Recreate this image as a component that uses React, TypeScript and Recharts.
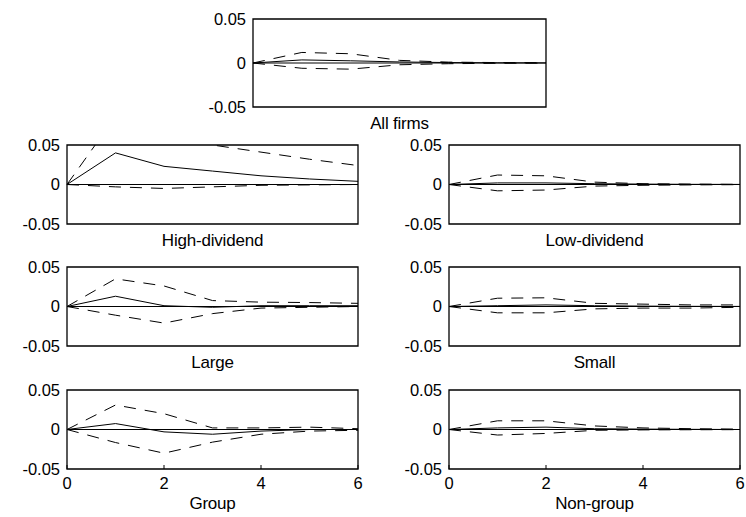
import React from 'react';
import {
  LineChart,
  Line,
  XAxis,
  YAxis,
  ReferenceLine,
  ReferenceArea,
} from 'recharts';

// horizon (periods after the shock)
const periods = [0, 1, 2, 3, 4, 5, 6];
const xTicks = [0, 2, 4, 6];
const yTicks = [-0.05, 0, 0.05];

const allIrf = [0, 0.0035, 0.0025, 0.0012, 0.0005, 0.0002, 0.0001];
const allUpper = [0, 0.012, 0.0105, 0.003, 0.001, 0.0005, 0.0003];
const allLower = [0, -0.006, -0.007, -0.002, -0.0008, -0.0003, -0.0001];

const highIrf = [0, 0.04, 0.023, 0.017, 0.011, 0.007, 0.004];
const highUpper = [0, 0.086, 0.066, 0.05, 0.041, 0.032, 0.024];
const highLower = [0, -0.003, -0.005, -0.003, -0.001, -0.0005, 0];

const lowIrf = [0, 0.002, 0.002, 0.001, 0.0005, 0.0002, 0.0001];
const lowUpper = [0, 0.012, 0.011, 0.003, 0.001, 0.0005, 0.0002];
const lowLower = [0, -0.008, -0.007, -0.002, -0.001, -0.0005, -0.0002];

const largeIrf = [0, 0.013, 0.001, -0.001, 0.001, 0.001, 0.001];
const largeUpper = [0, 0.035, 0.026, 0.0075, 0.0055, 0.005, 0.004];
const largeLower = [0, -0.011, -0.021, -0.009, -0.002, -0.001, 0];

const smallIrf = [0, 0.001, 0.002, 0.001, 0.0005, 0.0002, 0.0001];
const smallUpper = [0, 0.0105, 0.011, 0.004, 0.003, 0.002, 0.002];
const smallLower = [0, -0.008, -0.008, -0.003, -0.002, -0.002, -0.001];

const groupIrf = [0, 0.0075, -0.003, -0.006, -0.002, 0, 0];
const groupUpper = [0, 0.031, 0.02, 0.002, 0.002, 0.003, 0.001];
const groupLower = [0, -0.0165, -0.03, -0.016, -0.006, -0.002, -0.001];

const nonGroupIrf = [0, 0.002, 0.003, 0.001, 0.0005, 0.0002, 0];
const nonGroupUpper = [0, 0.011, 0.011, 0.0045, 0.002, 0.001, 0.0005];
const nonGroupLower = [0, -0.007, -0.005, -0.001, -0.0005, -0.0003, -0.0002];

const FONT = '"Liberation Sans", Arial, sans-serif';
const DASH = '12 9';

const build = (irf: number[], upper: number[], lower: number[]) =>
  periods.map((p, i) => ({ p, irf: irf[i], upper: upper[i], lower: lower[i] }));

interface PanelProps {
  title: string;
  data: { p: number; irf: number; upper: number; lower: number }[];
  left: number;
  top: number;
  w: number;
  h: number;
  xLabels?: boolean;
}

const Panel: React.FC<PanelProps> = ({ title, data, left, top, w, h, xLabels }) => {
  const axisW = 70;
  const mTop = 10;
  const axisH = 50;
  const tickStyle = { fontSize: 16.5, fill: '#000', fontFamily: FONT };
  return (
    <div style={{ position: 'absolute', left: left - axisW, top: top - mTop }}>
      <LineChart
        width={w + axisW + 10}
        height={h + mTop + axisH}
        data={data}
        margin={{ top: mTop, right: 10, left: 0, bottom: 0 }}
      >
        <XAxis
          dataKey="p"
          type="number"
          domain={[0, 6]}
          ticks={xTicks}
          height={axisH}
          axisLine={false}
          tickLine={xLabels ? { stroke: '#000' } : false}
          tick={xLabels ? tickStyle : false}
          tickSize={-4}
          tickMargin={12}
          label={{
            value: title,
            position: 'insideTop',
            offset: xLabels ? 28 : 10,
            style: { fontSize: 17, fill: '#000', fontFamily: FONT, letterSpacing: -0.2 },
          }}
        />
        {xLabels && (
          <XAxis
            xAxisId="top"
            orientation="top"
            dataKey="p"
            type="number"
            domain={[0, 6]}
            ticks={xTicks}
            height={0}
            axisLine={false}
            tick={false}
            tickLine={{ stroke: '#000' }}
            tickSize={-4}
          />
        )}
        <YAxis
          type="number"
          domain={[-0.05, 0.05]}
          ticks={yTicks}
          allowDataOverflow
          width={axisW}
          axisLine={false}
          tickLine={false}
          tickSize={0}
          tickMargin={7}
          tick={tickStyle}
          tickFormatter={(v: number) => String(v)}
        />
        <ReferenceLine y={0} stroke="#000" strokeWidth={1} />
        <Line dataKey="upper" stroke="#000" strokeWidth={1} strokeDasharray={DASH} dot={false} isAnimationActive={false} />
        <Line dataKey="lower" stroke="#000" strokeWidth={1} strokeDasharray={DASH} dot={false} isAnimationActive={false} />
        <Line dataKey="irf" stroke="#000" strokeWidth={1} dot={false} isAnimationActive={false} />
        <ReferenceArea x1={0} x2={6} y1={-0.05} y2={0.05} fill="none" stroke="#000" strokeWidth={1.3} />
      </LineChart>
    </div>
  );
};

const App: React.FC = () => {
  return (
    <div style={{ position: 'absolute', left: 0, top: 0, width: 746, height: 517, background: '#fff' }}>
      <Panel title="All firms" data={build(allIrf, allUpper, allLower)} left={253} top={19} w={293} h={88} />
      <Panel title="High-dividend" data={build(highIrf, highUpper, highLower)} left={67} top={145} w={291} h={79} />
      <Panel title="Low-dividend" data={build(lowIrf, lowUpper, lowLower)} left={449} top={145} w={291} h={79} />
      <Panel title="Large" data={build(largeIrf, largeUpper, largeLower)} left={67} top={267} w={291} h={79} />
      <Panel title="Small" data={build(smallIrf, smallUpper, smallLower)} left={449} top={267} w={291} h={79} />
      <Panel title="Group" data={build(groupIrf, groupUpper, groupLower)} left={67} top={390} w={291} h={79} xLabels />
      <Panel title="Non-group" data={build(nonGroupIrf, nonGroupUpper, nonGroupLower)} left={449} top={390} w={291} h={79} xLabels />
    </div>
  );
};

export default App;
